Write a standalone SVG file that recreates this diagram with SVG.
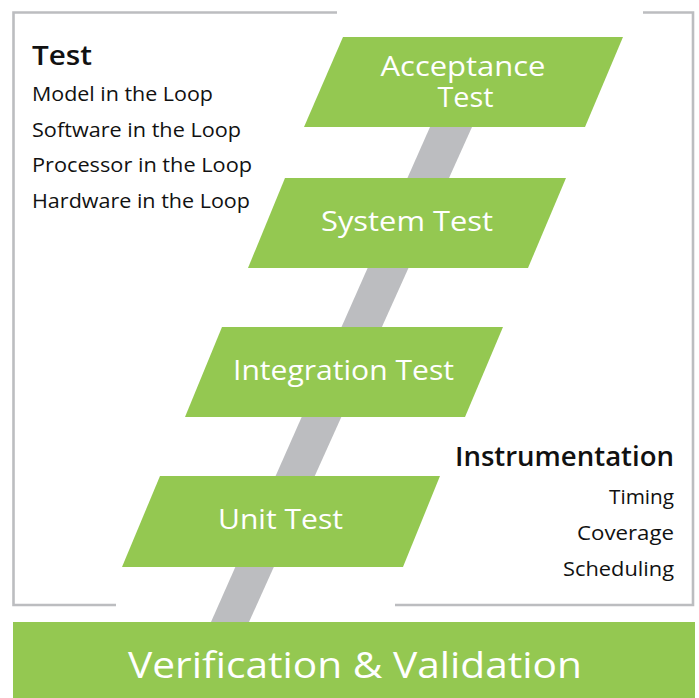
<svg xmlns="http://www.w3.org/2000/svg" width="699" height="698" viewBox="0 0 699 698">
<style>
.frame{fill:none;stroke:#BCBDC0;stroke-width:2.6}
.step{fill:#94C851}
.lbl{font-family:"Open Sans",Lato,sans-serif;font-size:28px;fill:#ffffff;text-anchor:middle;font-weight:500}
.hd{font-family:"Open Sans",Lato,sans-serif;font-size:27px;font-weight:600;fill:#111111}
.it{font-family:"Open Sans",Lato,sans-serif;font-size:19.5px;fill:#111111}
</style>
<rect width="699" height="698" fill="#ffffff"/>
<g id="frame">
<polyline class="frame" points="337,12.5 13.5,12.5 13.5,605 116,605"/>
<polyline class="frame" points="643,12.5 693,12.5 693,605 395,605"/>
</g>
<g id="connectors">
<polygon points="211,622 249,622 472,127 430,127" fill="#BCBDC0"/>
</g>
<g id="acceptance">
<polygon class="step" points="343,37 623,37 585,127 304,127"/>
<text class="lbl" x="463" y="76" textLength="165" lengthAdjust="spacingAndGlyphs">Acceptance</text>
<text class="lbl" x="465.5" y="107" textLength="56" lengthAdjust="spacingAndGlyphs">Test</text>
</g>
<g id="system">
<polygon class="step" points="285,178 566,178 528,268 248,268"/>
<text class="lbl" x="407" y="231" textLength="172" lengthAdjust="spacingAndGlyphs">System Test</text>
</g>
<g id="integration">
<polygon class="step" points="222,327 503,327 465,417 185,417"/>
<text class="lbl" x="343.5" y="380" textLength="221" lengthAdjust="spacingAndGlyphs">Integration Test</text>
</g>
<g id="unit">
<polygon class="step" points="160,476 440,476 403,567 122,567"/>
<text class="lbl" x="280.5" y="529" textLength="125" lengthAdjust="spacingAndGlyphs">Unit Test</text>
</g>
<g id="test-list">
<text class="hd" x="32" y="65" textLength="60" lengthAdjust="spacingAndGlyphs">Test</text>
<text class="it" x="32" y="101" textLength="181" lengthAdjust="spacingAndGlyphs">Model in the Loop</text>
<text class="it" x="32" y="137" textLength="209" lengthAdjust="spacingAndGlyphs">Software in the Loop</text>
<text class="it" x="32" y="172" textLength="220" lengthAdjust="spacingAndGlyphs">Processor in the Loop</text>
<text class="it" x="32" y="208" textLength="218" lengthAdjust="spacingAndGlyphs">Hardware in the Loop</text>
</g>
<g id="instrumentation">
<text class="hd" x="455" y="466" textLength="219" lengthAdjust="spacingAndGlyphs">Instrumentation</text>
<text class="it" x="609" y="504" textLength="65" lengthAdjust="spacingAndGlyphs">Timing</text>
<text class="it" x="577" y="540" textLength="97" lengthAdjust="spacingAndGlyphs">Coverage</text>
<text class="it" x="563" y="576" textLength="111" lengthAdjust="spacingAndGlyphs">Scheduling</text>
</g>
<g id="vv">
<rect x="13" y="622" width="682" height="76" fill="#94C851"/>
<text class="lbl" x="355" y="678" style="font-size:36px" textLength="454" lengthAdjust="spacingAndGlyphs">Verification &amp; Validation</text>
</g>
</svg>
